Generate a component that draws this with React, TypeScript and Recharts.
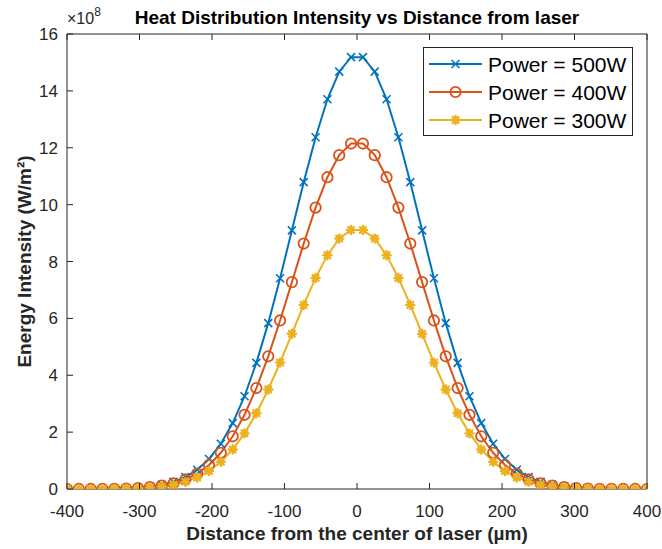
import React from "react"
import { Legend, Line, LineChart, XAxis, YAxis } from "recharts"

// distance from laser centre (µm)
const distance = [
  -400, -383.7, -367.3, -351.0, -334.7, -318.4, -302.0, -285.7, -269.4, -253.1,
  -236.7, -220.4, -204.1, -187.8, -171.4, -155.1, -138.8, -122.4, -106.1, -89.8,
  -73.5, -57.1, -40.8, -24.5, -8.2, 8.2, 24.5, 40.8, 57.1, 73.5,
  89.8, 106.1, 122.4, 138.8, 155.1, 171.4, 187.8, 204.1, 220.4, 236.7,
  253.1, 269.4, 285.7, 302.0, 318.4, 334.7, 351.0, 367.3, 383.7, 400,
]

// energy intensity, x10^8 W/m²
const power500 = [
  0.0005, 0.0012, 0.0027, 0.0057, 0.012, 0.023, 0.044, 0.081, 0.146, 0.251,
  0.42, 0.677, 1.056, 1.591, 2.318, 3.262, 4.437, 5.832, 7.409, 9.095,
  10.79, 12.37, 13.705, 14.675, 15.185, 15.185, 14.675, 13.705, 12.37, 10.79,
  9.095, 7.409, 5.832, 4.437, 3.262, 2.318, 1.591, 1.056, 0.677, 0.42,
  0.251, 0.146, 0.081, 0.044, 0.023, 0.012, 0.0057, 0.0027, 0.0012, 0.0005,
]
const power400 = [
  0.0004, 0.001, 0.002, 0.005, 0.009, 0.018, 0.035, 0.065, 0.117, 0.201,
  0.336, 0.542, 0.845, 1.273, 1.854, 2.61, 3.55, 4.666, 5.927, 7.276,
  8.632, 9.896, 10.964, 11.74, 12.148, 12.148, 11.74, 10.964, 9.896, 8.632,
  7.276, 5.927, 4.666, 3.55, 2.61, 1.854, 1.273, 0.845, 0.542, 0.336,
  0.201, 0.117, 0.065, 0.035, 0.018, 0.009, 0.005, 0.002, 0.001, 0.0004,
]
const power300 = [
  0.0003, 0.001, 0.002, 0.003, 0.007, 0.014, 0.026, 0.049, 0.088, 0.151,
  0.252, 0.406, 0.634, 0.955, 1.391, 1.957, 2.662, 3.499, 4.445, 5.457,
  6.474, 7.422, 8.223, 8.805, 9.111, 9.111, 8.805, 8.223, 7.422, 6.474,
  5.457, 4.445, 3.499, 2.662, 1.957, 1.391, 0.955, 0.634, 0.406, 0.252,
  0.151, 0.088, 0.049, 0.026, 0.014, 0.007, 0.003, 0.002, 0.001, 0.0003,
]

const xTicks = [-400, -300, -200, -100, 0, 100, 200, 300, 400]
const yTicks = [0, 2, 4, 6, 8, 10, 12, 14, 16]
const seriesNames = ["Power = 500W", "Power = 400W", "Power = 300W"]

const BLUE = "#0072BD"
const ORANGE = "#D95319"
const YELLOW = "#EDB120"
const AXIS = "#262626"
const FONT = "'Liberation Sans', Arial, Helvetica, sans-serif"

const W = 662
const H = 549
const PLOT_LEFT = 67
const PLOT_RIGHT = 647
const PLOT_TOP = 34
const PLOT_BOTTOM = 489
const TICK = 6

const data = distance.map((x, i) => ({
  x,
  p500: power500[i],
  p400: power400[i],
  p300: power300[i],
}))

function Cross({ cx, cy, color }: any) {
  const s = 4
  return (
    <g stroke={color} strokeWidth={1.6}>
      <line x1={cx - s} y1={cy - s} x2={cx + s} y2={cy + s} />
      <line x1={cx - s} y1={cy + s} x2={cx + s} y2={cy - s} />
    </g>
  )
}

function Ring({ cx, cy, color }: any) {
  return <circle cx={cx} cy={cy} r={5.2} fill="none" stroke={color} strokeWidth={1.8} />
}

function Star({ cx, cy, color }: any) {
  const s = 4
  const d = 2.9
  return (
    <g stroke={color} strokeWidth={2.4} strokeLinecap="round">
      <line x1={cx - s} y1={cy} x2={cx + s} y2={cy} />
      <line x1={cx} y1={cy - s} x2={cx} y2={cy + s} />
      <line x1={cx - d} y1={cy - d} x2={cx + d} y2={cy + d} />
      <line x1={cx - d} y1={cy + d} x2={cx + d} y2={cy - d} />
      <circle cx={cx} cy={cy} r={2.6} fill={color} stroke="none" />
    </g>
  )
}

const markers = [Cross, Ring, Star]
const colors = [BLUE, ORANGE, YELLOW]

function BottomTick({ x, y, payload }: any) {
  return (
    <g>
      <line x1={x} x2={x} y1={y} y2={y - TICK} stroke={AXIS} />
      <text x={x} y={y + 28} textAnchor="middle" fontSize={17} fill={AXIS} fontFamily={FONT}>
        {payload.value}
      </text>
    </g>
  )
}

function TopTick({ x, y }: any) {
  return <line x1={x} x2={x} y1={y} y2={y + TICK} stroke={AXIS} />
}

function LeftTick({ x, y, payload }: any) {
  return (
    <g>
      <line x1={x} x2={x + TICK} y1={y} y2={y} stroke={AXIS} />
      <text x={x - 9} y={y + 6} textAnchor="end" fontSize={17} fill={AXIS} fontFamily={FONT}>
        {payload.value}
      </text>
    </g>
  )
}

function RightTick({ x, y }: any) {
  return <line x1={x} x2={x - TICK} y1={y} y2={y} stroke={AXIS} />
}

function LegendBox() {
  return (
    <svg width={210} height={89} style={{ display: "block" }}>
      <rect x={0.5} y={0.5} width={209} height={88} fill="#fff" stroke={AXIS} />
      {seriesNames.map((name, i) => {
        const cy = 17 + i * 28
        const Marker = markers[i]
        return (
          <g key={name}>
            <line x1={6} x2={59} y1={cy} y2={cy} stroke={colors[i]} strokeWidth={2} />
            <Marker cx={32.5} cy={cy} color={colors[i]} />
            <text x={65} y={cy + 7.5} fontSize={21} fill="#000" fontFamily={FONT}>
              {name}
            </text>
          </g>
        )
      })}
    </svg>
  )
}

export default function App() {
  const keys = ["p500", "p400", "p300"]
  return (
    <div style={{ position: "absolute", left: 0, top: 0, width: W, height: H, background: "#fff" }}>
      <LineChart
        width={W}
        height={H}
        data={data}
        margin={{ top: PLOT_TOP - 1, right: W - PLOT_RIGHT - 1, bottom: H - PLOT_BOTTOM - 30, left: PLOT_LEFT - 40 }}
      >
        <XAxis
          xAxisId="bottom"
          dataKey="x"
          type="number"
          domain={[-400, 400]}
          ticks={xTicks}
          height={30}
          tickSize={0}
          tickMargin={0}
          tick={<BottomTick />}
          stroke={AXIS}
          allowDataOverflow
        />
        <XAxis
          xAxisId="top"
          orientation="top"
          dataKey="x"
          type="number"
          domain={[-400, 400]}
          ticks={xTicks}
          height={1}
          tickSize={0}
          tickMargin={0}
          tick={<TopTick />}
          stroke={AXIS}
        />
        <YAxis
          yAxisId="left"
          type="number"
          domain={[0, 16]}
          ticks={yTicks}
          width={40}
          tickSize={0}
          tickMargin={0}
          tick={<LeftTick />}
          stroke={AXIS}
          allowDataOverflow
        />
        <YAxis
          yAxisId="right"
          orientation="right"
          type="number"
          domain={[0, 16]}
          ticks={yTicks}
          width={1}
          tickSize={0}
          tickMargin={0}
          tick={<RightTick />}
          stroke={AXIS}
        />
        {keys.map((k, i) => {
          const Marker = markers[i]
          return (
            <Line
              key={k}
              xAxisId="bottom"
              yAxisId="left"
              type="linear"
              dataKey={k}
              name={seriesNames[i]}
              stroke={colors[i]}
              strokeWidth={2}
              isAnimationActive={false}
              dot={(p: any) => <Marker key={`${k}-${p.index}`} cx={p.cx} cy={p.cy} color={colors[i]} />}
              activeDot={false}
            />
          )
        })}
        <Legend
          layout="vertical"
          align="center"
          verticalAlign="middle"
          content={() => <LegendBox />}
          wrapperStyle={{ position: "absolute", left: 423, top: 47, width: 210, height: 89 }}
        />
      </LineChart>
      <svg
        width={W}
        height={H}
        style={{ position: "absolute", left: 0, top: 0, pointerEvents: "none" }}
        fontFamily={FONT}
      >
        <text x={357} y={24} textAnchor="middle" fontSize={19} fontWeight="bold" fill="#000">
          Heat Distribution Intensity vs Distance from laser
        </text>
        <text x={PLOT_LEFT} y={24} fontSize={16} fill={AXIS}>
          ×10
          <tspan dy={-8} fontSize={12}>
            8
          </tspan>
        </text>
        <text x={357} y={540} textAnchor="middle" fontSize={19} fontWeight="bold" fill={AXIS}>
          Distance from the center of laser (µm)
        </text>
        <text
          x={31}
          y={261.5}
          textAnchor="middle"
          fontSize={19}
          fontWeight="bold"
          fill={AXIS}
          transform="rotate(-90 31 261.5)"
        >
          Energy Intensity (W/m²)
        </text>
      </svg>
    </div>
  )
}
